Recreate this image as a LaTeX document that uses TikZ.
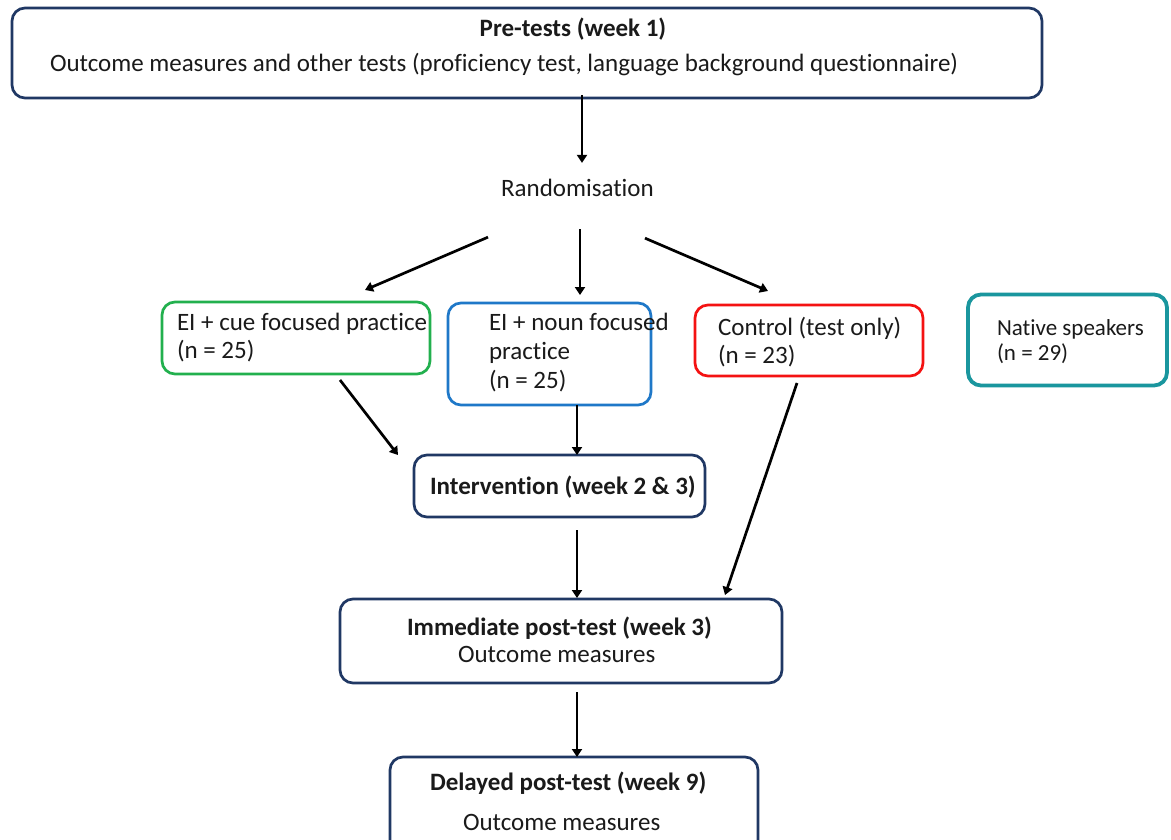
\documentclass[tikz,border=0pt]{standalone}
\usepackage{fontspec}
\setmainfont{Carlito}[Ligatures=NoCommon]
\usetikzlibrary{arrows.meta}
\definecolor{navy}{HTML}{203864}
\definecolor{gbox}{HTML}{22B04E}
\definecolor{bbox}{HTML}{1F78C8}
\definecolor{rbox}{HTML}{F41212}
\definecolor{tbox}{HTML}{1A969E}
\definecolor{ink}{HTML}{1A1A1A}
\tikzset{
  box/.style={draw, rounded corners=13pt, line width=2.7pt, inner sep=0pt, outer sep=0pt},
  txt/.style={inner sep=0pt, outer sep=0pt, text=ink, font=\fontsize{25}{30}\selectfont, anchor=base west},
  btxt/.style={txt, font=\fontsize{25}{30}\selectfont\bfseries},
  stxt/.style={txt, font=\fontsize{23}{28}\selectfont},
  arr/.style={line width=2.7pt, draw=black, -{Triangle[length=8pt,width=10pt]}}
}
\begin{document}
\begin{tikzpicture}[x=1pt,y=1pt]
\clip (0,0) rectangle (1171,-840);
\fill[white] (0,0) rectangle (1171,-840);
% boxes
\node[box, draw=navy, minimum width=1030, minimum height=90] (pre) at (527,-53) {};
\node[box, draw=gbox, minimum width=268, minimum height=72] (cue) at (296,-338) {};
\node[box, draw=bbox, minimum width=203, minimum height=102] (noun) at (549.5,-354) {};
\node[box, draw=rbox, minimum width=228, minimum height=71] (ctrl) at (809,-340.5) {};
\node[box, draw=tbox, line width=3.8pt, minimum width=199, minimum height=91] (native) at (1067.5,-340) {};
\node[box, draw=navy, minimum width=291, minimum height=62] (interv) at (559.5,-486) {};
\node[box, draw=navy, minimum width=442, minimum height=84] (immed) at (561,-641) {};
\node[box, draw=navy, minimum width=368, minimum height=113] (delay) at (574,-813.5) {};
% texts
\node[btxt, anchor=base] (preT) at (573,-37) {Pre-tests (week 1)};
\node[txt] (preO) at (50,-72) {Outcome measures and other tests (proficiency test, language background questionnaire)};
\node[txt, anchor=center, minimum width=153, text height=17.3pt, text depth=0pt] (rand) at (577.5,-187.5) {Randomisation};
\node[txt] (cue1) at (177,-330) {EI + cue focused practice};
\node[txt] (cue2) at (177,-358) {(n = 25)};
\node[txt] (noun1) at (489,-330) {EI + noun focused};
\node[txt] (noun2) at (489,-359) {practice};
\node[txt] (noun3) at (489,-388) {(n = 25)};
\node[txt] (ctrl1) at (718,-335) {Control (test only)};
\node[txt] (ctrl2) at (718,-363) {(n = 23)};
\node[stxt] (nat1) at (997,-335) {Native speakers};
\node[stxt] (nat2) at (997,-360) {(n = 29)};
\node[btxt] (intT) at (430,-494) {Intervention (week 2 \& 3)};
\node[btxt] (immT) at (407,-635) {Immediate post-test (week 3)};
\node[txt] (immO) at (458,-662) {Outcome measures};
\node[btxt] (delT) at (430,-790) {Delayed post-test (week 9)};
\node[txt] (delO) at (463,-830) {Outcome measures};
% arrows
\draw[arr] ([xshift=4.5pt,yshift=3pt]rand.north |- pre.south) -- ([xshift=4.5pt,yshift=16pt]rand.north);
\draw[arr] ([shift={(-89.5pt,-41pt)}]rand.south) -- ([shift={(69pt,12pt)}]cue.north);
\draw[arr] ([shift={(2.5pt,-33pt)}]rand.south) -- ([shift={(30.5pt,8pt)}]noun.north);
\draw[arr] ([shift={(67.5pt,-42pt)}]rand.south) -- ([shift={(-41pt,14pt)}]ctrl.north);
\draw[arr] ([shift={(44pt,-6pt)}]cue.south) -- ([shift={(-16pt,0pt)}]interv.north west);
\draw[arr] ([xshift=27.5pt]noun.south) -- ([xshift=17.5pt]interv.north);
\draw[arr] ([shift={(17.5pt,-13pt)}]interv.south) -- ([shift={(16pt,1pt)}]immed.north);
\draw[arr] ([shift={(-12pt,-7pt)}]ctrl.south) -- ([shift={(-57pt,4pt)}]immed.north east);
\draw[arr] ([shift={(16pt,-9pt)}]immed.south) -- ([xshift=3pt]delay.north);
\end{tikzpicture}
\end{document}
